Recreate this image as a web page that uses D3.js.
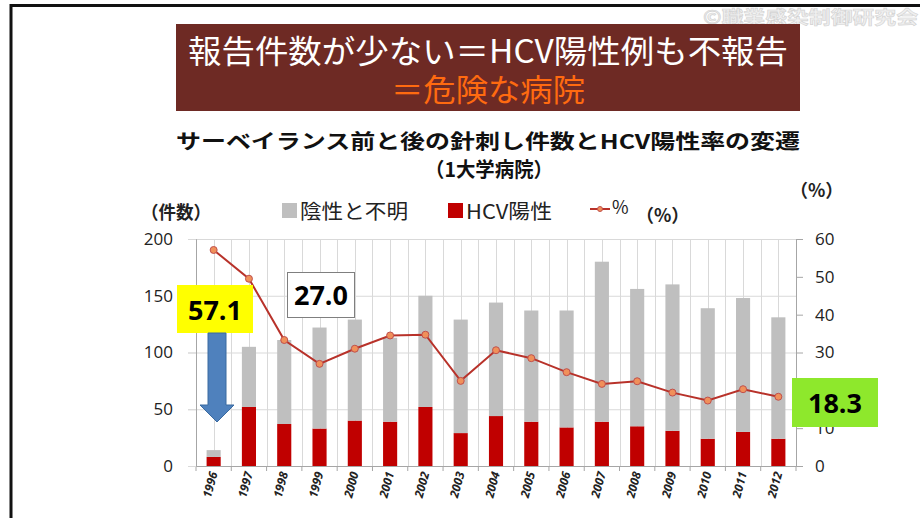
<!DOCTYPE html>
<html>
<head>
<meta charset="utf-8">
<script src="https://cdn.jsdelivr.net/npm/d3@7"></script>
<style>
  body { margin: 0; background: #fff; }
  svg { display: block; font-family: "Noto Sans CJK JP", "Noto Sans", sans-serif; }
</style>
</head>
<body>
<svg width="920" height="518"></svg>
<script>
const years = ["1996","1997","1998","1999","2000","2001","2002","2003","2004","2005","2006","2007","2008","2009","2010","2011","2012"];
// 陰性と不明 (negative / unknown), HCV陽性 (positive), % positive
const negUnknown = [6, 53, 74, 89, 89, 74, 98, 100, 100, 98, 103, 141, 121, 129, 115, 118, 107];
const hcvPositive = [8, 52, 37, 33, 40, 39, 52, 29, 44, 39, 34, 39, 35, 31, 24, 30, 24];
const pctPositive = [57.1, 49.5, 33.3, 27.0, 31.0, 34.5, 34.7, 22.5, 30.6, 28.5, 24.8, 21.7, 22.4, 19.4, 17.3, 20.3, 18.3];
const leftTicks = [0, 50, 100, 150, 200];
const rightTicks = [0, 10, 20, 30, 40, 50, 60];

const svg = d3.select("svg");

// slide frame
svg.append("path").attr("d", "M11,518 V5.5 H920").attr("fill", "none").attr("stroke", "#111").attr("stroke-width", 3);

// watermark
svg.append("text").attr("x", 703).attr("y", 24)
  .attr("font-size", 18).attr("font-weight", "bold").attr("fill", "#efefef").attr("stroke", "#d2d2d2").attr("stroke-width", 0.6)
  .attr("textLength", 215).attr("lengthAdjust", "spacingAndGlyphs")
  .text("©職業感染制御研究会");

// headline box
svg.append("rect").attr("x", 176).attr("y", 24).attr("width", 624).attr("height", 87).attr("fill", "#6e2a24");
svg.append("text").attr("x", 488).attr("y", 63).attr("text-anchor", "middle")
  .attr("font-size", 32).attr("fill", "#fff").attr("textLength", 600).attr("lengthAdjust", "spacingAndGlyphs")
  .text("報告件数が少ない＝HCV陽性例も不報告");
svg.append("text").attr("x", 488).attr("y", 101).attr("text-anchor", "middle")
  .attr("font-size", 31).attr("fill", "#ff6a10").attr("textLength", 194).attr("lengthAdjust", "spacingAndGlyphs")
  .text("＝危険な病院");

// chart title
svg.append("text").attr("x", 488).attr("y", 149).attr("text-anchor", "middle")
  .attr("font-size", 20).attr("font-weight", "bold").attr("fill", "#111").attr("textLength", 624).attr("lengthAdjust", "spacingAndGlyphs")
  .text("サーベイランス前と後の針刺し件数とHCV陽性率の変遷");
svg.append("text").attr("x", 489).attr("y", 177).attr("text-anchor", "middle")
  .attr("font-size", 20).attr("font-weight", "bold").attr("fill", "#111").attr("textLength", 128).attr("lengthAdjust", "spacingAndGlyphs")
  .text("（1大学病院）");

// scales
const x = d3.scaleBand().domain(years).range([196, 796]).paddingInner(0.6).paddingOuter(0.3);
const yL = d3.scaleLinear().domain([0, 200]).range([466, 239]);
const yR = d3.scaleLinear().domain([0, 60]).range([466, 239]);
const step = x.step();
const bw = x.bandwidth();

// gridlines
const grid = svg.append("g").attr("stroke", "#d9d9d9").attr("stroke-width", 1);
grid.selectAll(".h").data(leftTicks.slice(1)).join("line")
  .attr("x1", 188).attr("x2", 796).attr("y1", d => yL(d) + 0.5).attr("y2", d => yL(d) + 0.5);
const vlines = [];
years.forEach((d, i) => { vlines.push(196 + i * step); vlines.push(x(d) + bw / 2); });
vlines.push(796);
grid.selectAll(".v").data(vlines).join("line")
  .attr("x1", d => Math.round(d) + 0.5).attr("x2", d => Math.round(d) + 0.5).attr("y1", yL(200)).attr("y2", yL(0));

// stacked bars
const stackData = years.map((y, i) => ({ year: y, pos: hcvPositive[i], neg: negUnknown[i] }));
const stacked = d3.stack().keys(["pos", "neg"])(stackData);
const colors = { pos: "#c00000", neg: "#bfbfbf" };
svg.append("g").selectAll("g").data(stacked).join("g").attr("fill", s => colors[s.key])
  .selectAll("rect").data(s => s).join("rect")
  .attr("x", d => x(d.data.year)).attr("width", bw)
  .attr("y", d => yL(d[1])).attr("height", d => yL(d[0]) - yL(d[1]));

// axes
const axisCol = "#a6a6a6";
const xAxis = svg.append("g").attr("transform", "translate(0,466)")
  .call(d3.axisBottom(x).tickSize(0).tickFormat(""));
xAxis.select(".domain").attr("stroke", axisCol);
svg.append("g").attr("stroke", axisCol).selectAll("line").data(d3.range(years.length + 1)).join("line")
  .attr("x1", i => 196 + i * step).attr("x2", i => 196 + i * step).attr("y1", 466).attr("y2", 471);

svg.append("g").selectAll("text").data(years).join("text")
  .attr("transform", d => `translate(${x(d) + bw / 2 + 4},${473}) rotate(-75)`)
  .attr("text-anchor", "end").attr("font-size", 12).attr("font-style", "italic").attr("font-weight", "bold")
  .attr("font-family", "Open Sans, sans-serif").attr("fill", "#222").text(d => d);

const leftAxis = svg.append("g").attr("transform", "translate(196,0)")
  .call(d3.axisLeft(yL).tickValues(leftTicks).tickSize(8).tickPadding(15));
leftAxis.select(".domain").attr("stroke", axisCol);
leftAxis.selectAll("line").attr("stroke", "#d9d9d9");
leftAxis.selectAll("text").attr("font-size", 17).attr("fill", "#222").attr("font-family", "Open Sans, sans-serif");

const rightAxis = svg.append("g").attr("transform", "translate(796,0)")
  .call(d3.axisRight(yR).tickValues(rightTicks).tickSize(7).tickPadding(12));
rightAxis.select(".domain").attr("stroke", axisCol);
rightAxis.selectAll("line").attr("stroke", axisCol);
rightAxis.selectAll("text").attr("font-size", 17).attr("fill", "#222").attr("font-family", "Open Sans, sans-serif");

// percent line
const line = d3.line().x((d, i) => x(years[i]) + bw / 2).y(d => yR(d));
svg.append("path").datum(pctPositive).attr("d", line).attr("fill", "none").attr("stroke", "#b8322a").attr("stroke-width", 2);
svg.append("g").selectAll("circle").data(pctPositive).join("circle")
  .attr("cx", (d, i) => x(years[i]) + bw / 2).attr("cy", d => yR(d)).attr("r", 3.5)
  .attr("fill", "#f0905a").attr("stroke", "#c0504d").attr("stroke-width", 1);

// axis titles
svg.append("text").attr("x", 141).attr("y", 219).attr("font-size", 18).attr("font-weight", "bold").attr("fill", "#222")
  .attr("textLength", 70).attr("lengthAdjust", "spacingAndGlyphs").text("（件数）");
svg.append("text").attr("x", 790).attr("y", 197).attr("font-size", 18).attr("font-weight", "bold").attr("fill", "#222").text("（%）");

// legend
const lg = svg.append("g").attr("font-size", 20).attr("fill", "#222");
lg.append("rect").attr("x", 282).attr("y", 203).attr("width", 15).attr("height", 15).attr("fill", colors.neg);
lg.append("text").attr("x", 300).attr("y", 219).attr("textLength", 108).attr("lengthAdjust", "spacingAndGlyphs").text("陰性と不明");
lg.append("rect").attr("x", 448).attr("y", 203).attr("width", 15).attr("height", 15).attr("fill", colors.pos);
lg.append("text").attr("x", 466).attr("y", 219).attr("textLength", 86).attr("lengthAdjust", "spacingAndGlyphs").text("HCV陽性");
lg.append("line").attr("x1", 590).attr("x2", 610).attr("y1", 209).attr("y2", 209).attr("stroke", "#b8322a").attr("stroke-width", 2);
lg.append("circle").attr("cx", 600).attr("cy", 209).attr("r", 2.5).attr("fill", "#f0905a").attr("stroke", "#c0504d");
lg.append("text").attr("x", 612).attr("y", 214).attr("font-size", 18).text("%");
lg.append("text").attr("x", 636).attr("y", 222).attr("font-size", 18).attr("font-weight", "bold").text("（%）");

// annotations
const ann = svg.append("g").attr("font-family", "Open Sans, sans-serif").attr("font-weight", "bold").attr("font-size", 27).attr("fill", "#000");
ann.append("rect").attr("x", 177).attr("y", 285).attr("width", 76).attr("height", 48).attr("fill", "#ffff00");
ann.append("text").attr("x", 215).attr("y", 320).attr("text-anchor", "middle").text(pctPositive[0].toFixed(1));

ann.append("path").attr("d", "M208,333 H226 V405 H234 L217,422 L200,405 H208 Z")
  .attr("fill", "#4f81bd").attr("stroke", "#3a6aa0").attr("stroke-width", 1);

ann.append("rect").attr("x", 287.5).attr("y", 272.5).attr("width", 67).attr("height", 45).attr("fill", "#fff").attr("stroke", "#7f7f7f").attr("stroke-width", 1);
ann.append("text").attr("x", 321).attr("y", 305).attr("text-anchor", "middle").text(pctPositive[3].toFixed(1));

ann.append("rect").attr("x", 792).attr("y", 378).attr("width", 86).attr("height", 49).attr("fill", "#8ee82c");
ann.append("text").attr("x", 835).attr("y", 413).attr("text-anchor", "middle").text(pctPositive[16].toFixed(1));
</script>
</body>
</html>
